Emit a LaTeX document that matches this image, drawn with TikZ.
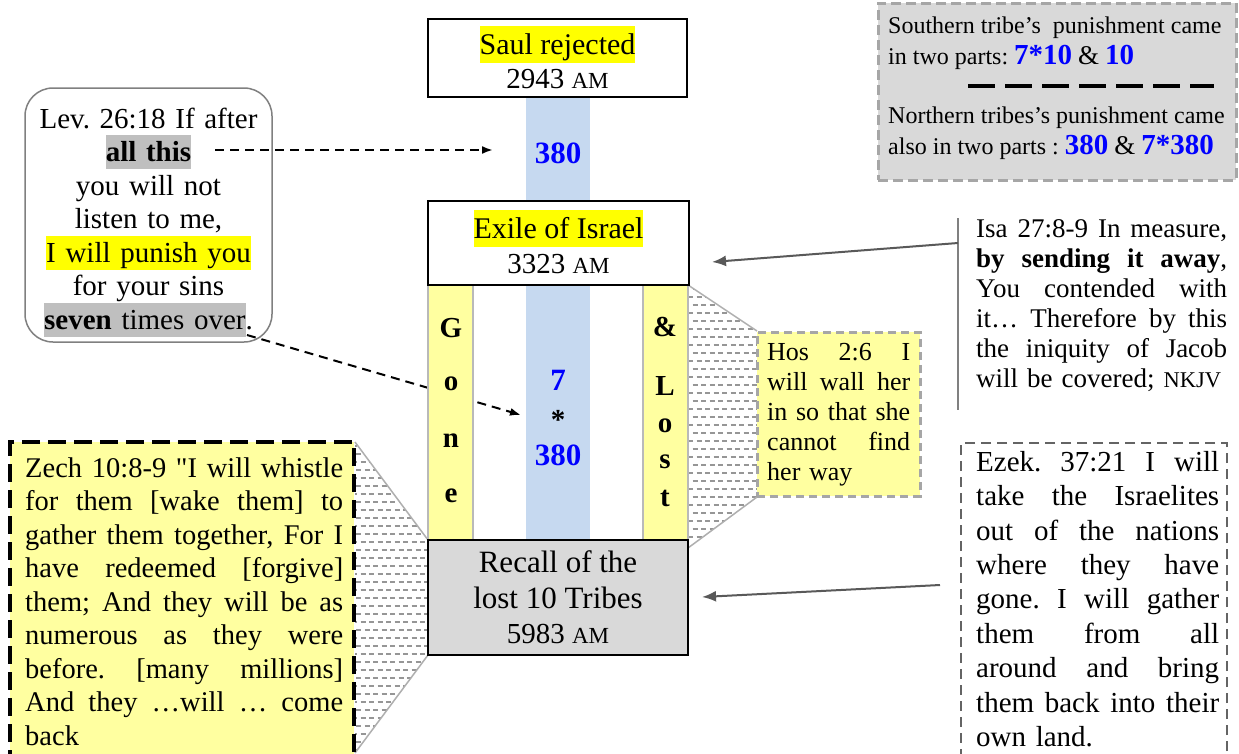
\documentclass[tikz,border=0pt]{standalone}
\usepackage{fontspec}
\setmainfont{Liberation Serif}[Ligatures=TeXOff]
\usetikzlibrary{arrows.meta}
\frenchspacing
\definecolor{hlyellow}{RGB}{255,255,0}
\definecolor{paleyellow}{RGB}{255,255,160}
\definecolor{hlgray}{RGB}{191,191,191}
\definecolor{boxgray}{RGB}{217,217,217}
\definecolor{dashgray}{RGB}{166,166,166}
\definecolor{colblue}{RGB}{198,217,240}
\definecolor{arrgray}{RGB}{89,89,89}
\definecolor{txtblue}{RGB}{0,0,255}
\definecolor{levgray}{RGB}{128,128,128}
\definecolor{stripgray}{RGB}{185,185,185}
\definecolor{hatchgray}{RGB}{150,150,150}
\definecolor{calloutgray}{RGB}{175,175,175}
\definecolor{ezekgray}{RGB}{100,100,100}
\newcommand\hlb[4]{{\setlength\fboxsep{0pt}\colorbox{#1}{\rule[-#3]{0pt}{\dimexpr#2+#3\relax}#4}}}
\newcommand\jline[1]{\leavevmode\hbox to \hsize{\spaceskip=0.25em plus 1fil\relax #1}}
\newcommand\fs[2]{\fontsize{#1}{#2}\selectfont}
\newcommand\smcap[2]{{\fontsize{#1}{#1}\selectfont #2}}
\tikzset{
  cbox/.style={draw=black, line width=2pt, inner sep=0pt},
  stripbox/.style={draw=stripgray, line width=1.5pt, fill=paleyellow, minimum width=45pt, minimum height=255pt, inner sep=0pt},
  bluebox/.style={fill=colblue, minimum width=64pt, inner sep=0pt},
  lbl/.style={anchor=base, inner sep=0pt},
  para/.style={anchor=north west, inner sep=0pt, align=left},
  hatch/.style={draw=hatchgray, line width=1.2pt, dash pattern=on 5pt off 3.5pt},
  calloutline/.style={draw=calloutgray, line width=1.5pt},
  darrow/.style={draw=black, line width=2pt, dash pattern=on 9pt off 6pt, -{Latex[length=11pt,width=8pt]}},
  garrow/.style={draw=arrgray, line width=2pt, -{Latex[length=14pt,width=11pt]}},
  bnum/.style={lbl, font=\fs{31}{34}\bfseries, text=txtblue},
  vletter/.style={lbl, font=\fs{29}{33}\bfseries},
}
\begin{document}
\begin{tikzpicture}[x=1pt,y=-1pt]
\useasboundingbox (0,0) rectangle (1239,753);
\fill[white] (0,0) rectangle (1239,753);

% hatched callout shapes
\begin{scope}
  \clip (688,285) -- (757,331) -- (757,497) -- (688,548) -- cycle;
  \fill[white] (680,280) rectangle (760,560);
  \foreach \yy in {289,305,...,560} \draw[hatch] (684,\yy) -- (760,\yy);
  \foreach \yy in {297,313,...,560} \draw[hatch, dash phase=4.5pt] (684,\yy) -- (760,\yy);
\end{scope}
\draw[calloutline] (688,285) -- (757,331) (757,497) -- (688,548);
\begin{scope}
  \clip (355,442) -- (428,540) -- (428,655) -- (355,753) -- cycle;
  \fill[white] (350,440) rectangle (430,760);
  \foreach \yy in {446,462,...,760} \draw[hatch] (352,\yy) -- (430,\yy);
  \foreach \yy in {454,470,...,760} \draw[hatch, dash phase=4.5pt] (352,\yy) -- (430,\yy);
\end{scope}
\draw[calloutline] (355,442) -- (428,540) (428,655) -- (355,753);

% blue column
\node[bluebox, minimum height=104pt] (blueA) at (558,149) {};
\node[bluebox, minimum height=255pt] (blueB) at (558,412.5) {};

% Lev box
\node[draw=levgray, line width=1.5pt, rounded corners=28pt, minimum width=247pt, minimum height=254pt] (lev) at (148.5,215) {};
\node[anchor=north, inner sep=0pt, text width=240pt, align=center, font=\fs{29}{33.5}] (levT) at (148.5,106)
 {\rule{0pt}{22pt}Lev. 26:18 If after\\
  \hlb{hlgray}{26.5pt}{7.5pt}{\textbf{all this}}\\
  you will not\\
  listen to me,\\
  \hlb{hlyellow}{26.5pt}{7.5pt}{I will punish you}\\
  for your sins\\
  \hlb{hlgray}{26.5pt}{7.5pt}{\textbf{seven} times over}.};

% dashed arrows
\coordinate (a1s) at (215,150);
\coordinate (a1e) at (493,150);
\coordinate (a2s) at (247,335);
\coordinate (a2e) at (521,415);
\draw[darrow] (a1s) -- (a1e);
\draw[darrow] (a2s) -- (a2e);

% yellow strips
\node[stripbox] (gone) at (450.5,412.5) {};
\node[stripbox] (lost) at (665.5,412.5) {};

% centre boxes
\node[cbox, fill=white, minimum width=259pt, minimum height=78pt] (saul) at (557.5,58) {};
\node[cbox, fill=white, minimum width=261pt, minimum height=84pt] (exile) at (558.5,243) {};
\node[cbox, fill=boxgray, minimum width=260pt, minimum height=115pt] (recall) at (558,597.5) {};

\node[lbl, font=\fs{30}{34}] (saulT) at (557.5,54) {\hlb{hlyellow}{28pt}{9pt}{Saul rejected}};
\node[lbl, font=\fs{29}{33}] (saulD) at (557.5,88) {2943 \smcap{23}{AM}};
\node[lbl, font=\fs{30}{34}] (exileT) at (558.5,238) {\hlb{hlyellow}{28pt}{9pt}{Exile of Israel}};
\node[lbl, font=\fs{29}{33}] (exileD) at (558.5,273) {3323 \smcap{23}{AM}};
\node[lbl, font=\fs{31}{35}] (recallT) at (558,572) {Recall of the};
\node[lbl, font=\fs{31}{35}] (recallU) at (558,608) {lost 10 Tribes};
\node[lbl, font=\fs{29}{33}] (recallD) at (558,643) {5983 \smcap{23}{AM}};

% numbers
\node[bnum] (n380) at (558,163) {380};
\node[bnum] (n7) at (558,390) {7};
\node[lbl, font=\fs{29}{33}\bfseries] (nstar) at (558,429) {*};
\node[bnum] (n380b) at (558,465) {380};

% Gone & Lost
\node[vletter] (g1) at (451,337) {G};
\node[vletter] (g2) at (451,390) {o};
\node[vletter] (g3) at (451,447) {n};
\node[vletter] (g4) at (451,502) {e};
\node[vletter] (l1) at (665,336) {\&};
\node[vletter] (l2) at (665,395) {L};
\node[vletter] (l3) at (665,432) {o};
\node[vletter] (l4) at (665,468) {s};
\node[vletter] (l5) at (665,506) {t};

% top-right box
\node[draw=dashgray, fill=boxgray, line width=3pt, dash pattern=on 10pt off 5pt, minimum width=358pt, minimum height=177pt] (tribes) at (1057,91.5) {};
\node[anchor=base west, inner sep=0pt, font=\fs{24}{28}] (tr1) at (888,33) {Southern tribe’s\ \ punishment came};
\node[anchor=base west, inner sep=0pt, font=\fs{24}{28}] (tr2) at (888,64) {in two parts: {\fs{29}{30}\bfseries\color{txtblue}7*10} {\fs{27}{30}\&} {\fs{29}{30}\bfseries\color{txtblue}10}};
\draw[black, line width=3.5pt, dash pattern=on 27pt off 10pt] (968,86) -- (1214,86);
\node[anchor=base west, inner sep=0pt, font=\fs{24}{28}] (tr3) at (888,123) {Northern tribes’s punishment came};
\node[anchor=base west, inner sep=0pt, font=\fs{24}{28}] (tr4) at (888,154) {also in two parts : {\fs{29}{30}\bfseries\color{txtblue}380} {\fs{27}{30}\&} {\fs{29}{30}\bfseries\color{txtblue}7*380}};

% Isa
\coordinate (isaTop) at (958,218);
\coordinate (isaBot) at (958,410);
\draw[draw=levgray, line width=1.5pt] (isaTop) -- (isaBot);
\node[para, text width=251pt, font=\fs{27}{30}] (isa) at (976,215)
 {\rule{0pt}{22pt}\jline{Isa 27:8-9 In measure,}\\
  \jline{\textbf{by sending it away},}\\
  \jline{You contended with}\\
  \jline{it… Therefore by this}\\
  \jline{the iniquity of Jacob}\\
  will be covered; \smcap{22.5}{NKJV}};
\coordinate (isaS) at (958,243);
\coordinate (isaE) at (712,262);
\draw[garrow] (isaS) -- (isaE);

% Hos
\node[draw=dashgray, fill=paleyellow, line width=3pt, dash pattern=on 8pt off 5pt, minimum width=163pt, minimum height=164pt] (hos) at (838.5,414) {};
\node[para, text width=143pt, font=\fs{26}{30}] (hosT) at (767,340)
 {\rule{0pt}{20pt}\jline{Hos 2:6 I}\\
  \jline{will wall her}\\
  \jline{in so that she}\\
  \jline{cannot find}\\
  her way};

% Zech
\node[draw=black, fill=paleyellow, line width=3.5pt, dash pattern=on 18pt off 8pt, minimum width=344pt, minimum height=330pt] (zech) at (182,607) {};
\node[para, text width=318pt, font=\fs{28.5}{33.5}] (zechT) at (25,455)
 {\rule{0pt}{22pt}\jline{Zech 10:8-9 "I will whistle}\\
  \jline{for them [wake them] to}\\
  \jline{gather them together, For I}\\
  \jline{have redeemed [forgive]}\\
  \jline{them; And they will be as}\\
  \jline{numerous as they were}\\
  \jline{before. [many millions]}\\
  \jline{And they …will … come}\\
  back};

% Ezek
\node[draw=ezekgray, line width=1.5pt, dash pattern=on 10pt off 6pt, minimum width=266pt, minimum height=330pt] (ezek) at (1094,608) {};
\node[para, text width=243pt, font=\fs{29}{34.4}] (ezekT) at (976,449)
 {\rule{0pt}{22pt}\jline{Ezek. 37:21 I will}\\
  \jline{take the Israelites}\\
  \jline{out of the nations}\\
  \jline{where they have}\\
  \jline{gone. I will gather}\\
  \jline{them from all}\\
  \jline{around and bring}\\
  \jline{them back into their}\\
  own land.};
\coordinate (ezS) at (940,585);
\coordinate (ezE) at (702,597);
\draw[garrow] (ezS) -- (ezE);
\end{tikzpicture}
\end{document}
